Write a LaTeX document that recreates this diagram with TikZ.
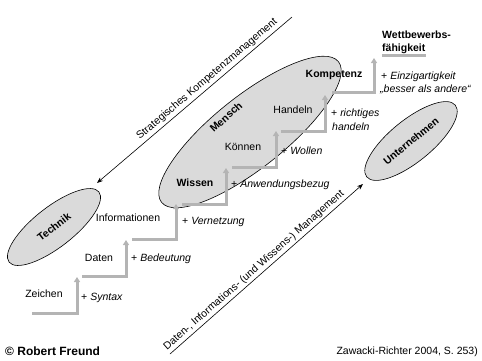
\documentclass[tikz,border=0pt]{standalone}
\usepackage{fontspec}
\setmainfont{Liberation Sans}
\usetikzlibrary{shapes.geometric,arrows.meta}
\definecolor{stair}{RGB}{180,180,180}
\definecolor{blobfill}{RGB}{218,218,218}
\begin{document}
\begin{tikzpicture}[x=1pt,y=-1pt,
  stairline/.style={draw=stair, line width=3pt, -{Triangle[length=5pt,width=6pt]}},
  barline/.style={draw=stair, line width=3pt},
  blob/.style={ellipse, draw=black, line width=0.6pt, fill=blobfill, inner sep=0pt},
  lbl/.style={inner sep=0pt, font=\fontsize{10.5}{13}\selectfont},
  blbl/.style={inner sep=0pt, font=\fontsize{10.5}{13}\selectfont\bfseries},
  mgmt/.style={draw=black, line width=0.6pt},
  mtext/.style={sloped, above, inner sep=2pt, font=\fontsize{10.5}{13}\selectfont}
]
\useasboundingbox (0,0) rectangle (482,360);

% ellipses
\node[blob, minimum width=114pt, minimum height=40pt, rotate=38] (technik) at (54,227) {\fontsize{10.5}{13}\selectfont\bfseries Technik};
\node[blob, minimum width=226pt, minimum height=72pt, rotate=38.5] (mensch) at (250,132) {};
\node[blob, minimum width=114pt, minimum height=42pt, rotate=39] (unternehmen) at (411,141) {\fontsize{10.5}{13}\selectfont\bfseries Unternehmen};
\node[blbl, rotate=42] (menschlbl) at (226,117) {Mensch};

% stair coordinates
\coordinate (a0) at (32,313);  \coordinate (a1) at (77,313);  \coordinate (a2) at (77,277);
\coordinate (b0) at (82,276);  \coordinate (b1) at (126,276); \coordinate (b2) at (126,240);
\coordinate (c0) at (132,239); \coordinate (c1) at (176,239); \coordinate (c2) at (176,204);
\coordinate (d0) at (182,204); \coordinate (d1) at (226,204); \coordinate (d2) at (226,168);
\coordinate (e0) at (232,167); \coordinate (e1) at (276,167); \coordinate (e2) at (276,131);
\coordinate (f0) at (281,131); \coordinate (f1) at (325,131); \coordinate (f2) at (325,95);
\coordinate (g0) at (332,92);  \coordinate (g1) at (374,92);  \coordinate (g2) at (374,58);
\coordinate (h0) at (382,55);  \coordinate (h1) at (426,55);

\draw[stairline] (a0) -- (a1) -- (a2);
\draw[stairline] (b0) -- (b1) -- (b2);
\draw[stairline] (c0) -- (c1) -- (c2);
\draw[stairline] (d0) -- (d1) -- (d2);
\draw[stairline] (e0) -- (e1) -- (e2);
\draw[stairline] (f0) -- (f1) -- (f2);
\draw[stairline] (g0) -- (g1) -- (g2);
\draw[barline] (h0) -- (h1);

% management lines
\coordinate (sA) at (97,183);  \coordinate (sB) at (292,17);
\coordinate (dA) at (170,354); \coordinate (dB) at (363,184);
\draw[mgmt, {Stealth[length=6pt,width=4.5pt]}-] (sA) -- node[mtext, pos=0.59, inner sep=2.5pt] (stratlbl) {Strategisches Kompetenzmanagement} (sB);
\draw[mgmt, -{Stealth[length=6pt,width=4.5pt]}] (dA) -- node[mtext, pos=0.46] (datenlbl) {Daten-, Informations- (und Wissens-) Management} (dB);

% stair labels
\node[lbl, anchor=base] (zeichen) at (44,297) {Zeichen};
\node[lbl, anchor=base west] (syntax) at (81,300) {+ \textit{Syntax}};
\node[lbl, anchor=base] (daten) at (99,261) {Daten};
\node[lbl, anchor=base west] (bedeutung) at (131,261) {+ \textit{Bedeutung}};
\node[lbl, anchor=base] (informationen) at (128,221) {Informationen};
\node[lbl, anchor=base west] (vernetzung) at (182,224) {+ \textit{Vernetzung}};
\node[blbl, anchor=base] (wissen) at (195,186) {Wissen};
\node[lbl, anchor=base west] (anwendung) at (231,187) {+ \textit{Anwendungsbezug}};
\node[lbl, anchor=base] (koennen) at (243,150) {Können};
\node[lbl, anchor=base west] (wollen) at (281,154) {+ \textit{Wollen}};
\node[lbl, anchor=base] (handeln) at (293,113) {Handeln};
\node[lbl, anchor=base west] (richtig1) at (331,116) {+ \textit{richtiges}};
\node[lbl, anchor=base west] (richtig2) at (332,130) {\textit{handeln}};
\node[blbl, anchor=base] (kompetenz) at (334,77) {Kompetenz};
\node[lbl, anchor=base west] (einzig1) at (381,79) {+ \textit{Einzigartigkeit}};
\node[lbl, anchor=base west] (einzig2) at (380,92) {\textit{„besser als andere“}};
\node[blbl, anchor=base west] (wett1) at (382,38) {Wettbewerbs-};
\node[blbl, anchor=base west] (wett2) at (382,51) {fähigkeit};

% footer
\node[inner sep=0pt, anchor=base west, font=\fontsize{12}{14}\selectfont\bfseries] (copy) at (5,355) {© Robert Freund};
\node[lbl, anchor=base east] (quelle) at (478,354) {Zawacki-Richter 2004, S. 253)};
\end{tikzpicture}
\end{document}
